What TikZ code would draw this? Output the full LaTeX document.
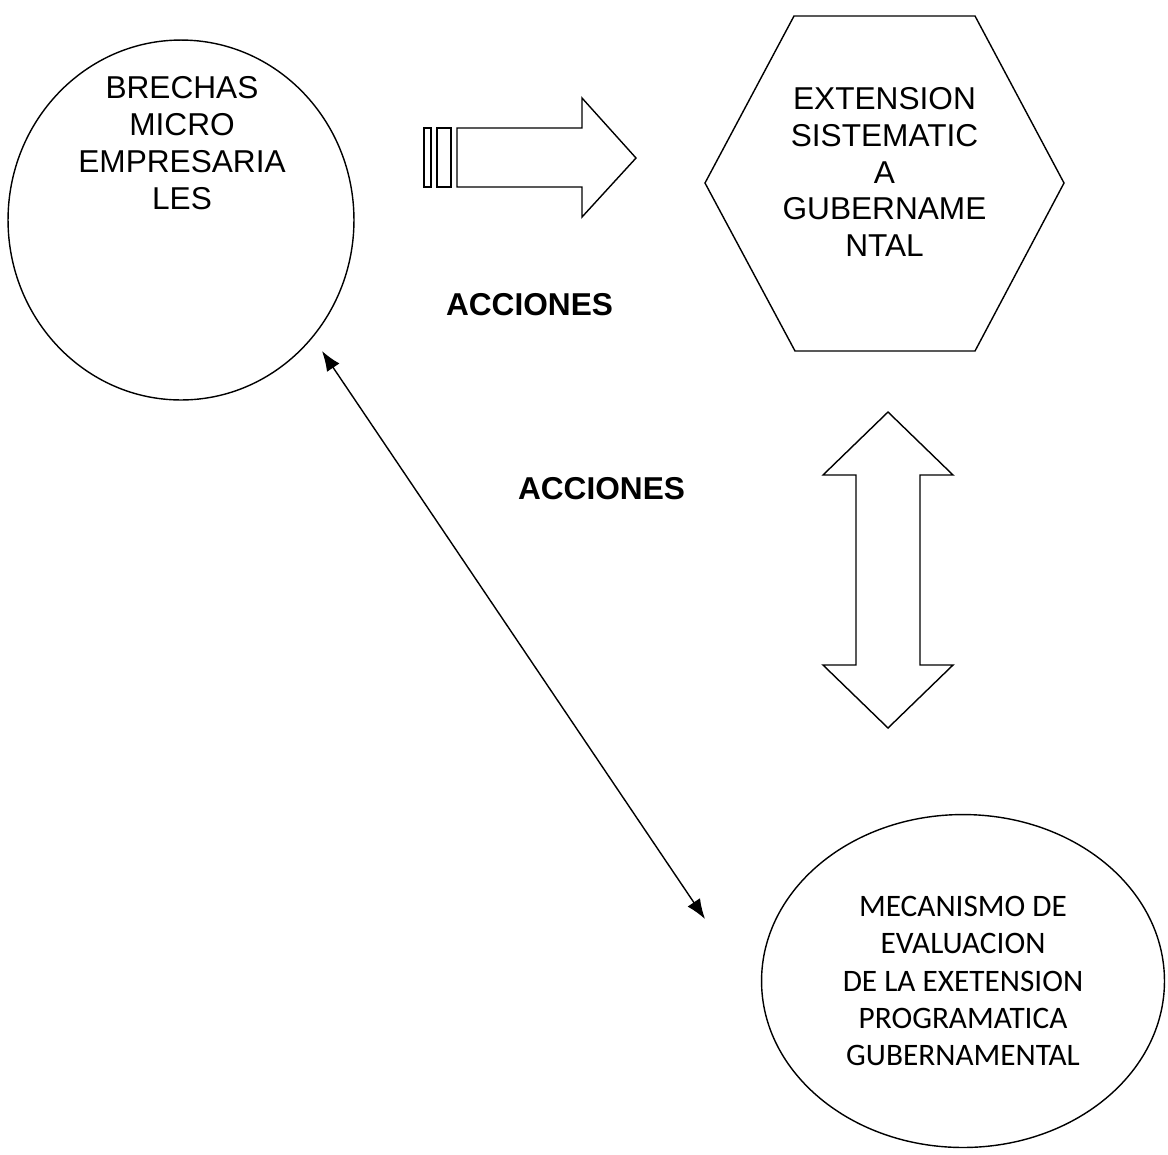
\documentclass[tikz,border=0pt]{standalone}
\usepackage{fontspec}
\setmainfont{Liberation Sans}
\newfontfamily\calibrifont{Carlito}
\usepackage{tikz}
\usetikzlibrary{arrows.meta, positioning, shapes.geometric}

\begin{document}
\begin{tikzpicture}[
    x=0.02cm, y=-0.02cm,
    % Styles
    outline/.style={draw, line width=0.8pt},
    bubble/.style={outline, ellipse, inner sep=0pt},
    boxtext/.style={align=center, inner sep=0pt, font=\fontsize{18}{21}\selectfont},
    evaltext/.style={align=center, inner sep=0pt, font=\calibrifont\fontsize{17.8}{21.3}\selectfont},
    actlabel/.style={inner sep=0pt, font=\bfseries\fontsize{18}{21}\selectfont},
    blockarrow/.style={outline, line join=miter},
    thinlink/.style={line width=0.8pt, {Latex[length=4mm,width=3mm]}-{Latex[length=4mm,width=3mm]}}
]
    % Page frame
    \useasboundingbox (0,0) rectangle (1168,1154);

    % Brechas ellipse
    \node[bubble, minimum width=6.92cm, minimum height=7.2cm] (brechas) at (181,220) {};
    \node[boxtext] (brechastxt) at (182,143) {BRECHAS\\MICRO\\EMPRESARIA\\LES};

    % Extension hexagon
    \draw[outline] (705,183) -- (794,16) -- (975,16) -- (1064,183) -- (975,351) -- (795,351) -- cycle;
    \node[boxtext] (extension) at (884.5,172) {EXTENSION\\SISTEMATIC\\A\\GUBERNAME\\NTAL};

    % Evaluation ellipse
    \node[bubble, minimum width=8.06cm, minimum height=6.66cm, evaltext] (mecanismo) at (963,981)
        {MECANISMO DE\\EVALUACION\\DE LA EXETENSION\\PROGRAMATICA\\GUBERNAMENTAL};

    % Striped arrow between the two top shapes
    \draw[outline] (424,128) rectangle (431,187);
    \draw[outline] (437,128) rectangle (451,187);
    \draw[blockarrow] (457,128) -- (582,128) -- (582,98) -- (636,158) -- (582,217)
        -- (582,187) -- (457,187) -- cycle;

    % Up-down arrow below the hexagon
    \draw[blockarrow] (888,412) -- (953,475) -- (920,475) -- (920,665) -- (953,665)
        -- (888,728) -- (823,665) -- (856,665) -- (856,475) -- (823,475) -- cycle;

    % Labels
    \node[actlabel] (acciones1) at (529.5,305) {ACCIONES};
    \node[actlabel] (acciones2) at (601.5,489) {ACCIONES};

    % Thin two-headed link
    \coordinate (linkA) at (322,351);
    \coordinate (linkB) at (705,919);
    \draw[thinlink] (linkA) -- (linkB);
\end{tikzpicture}
\end{document}
